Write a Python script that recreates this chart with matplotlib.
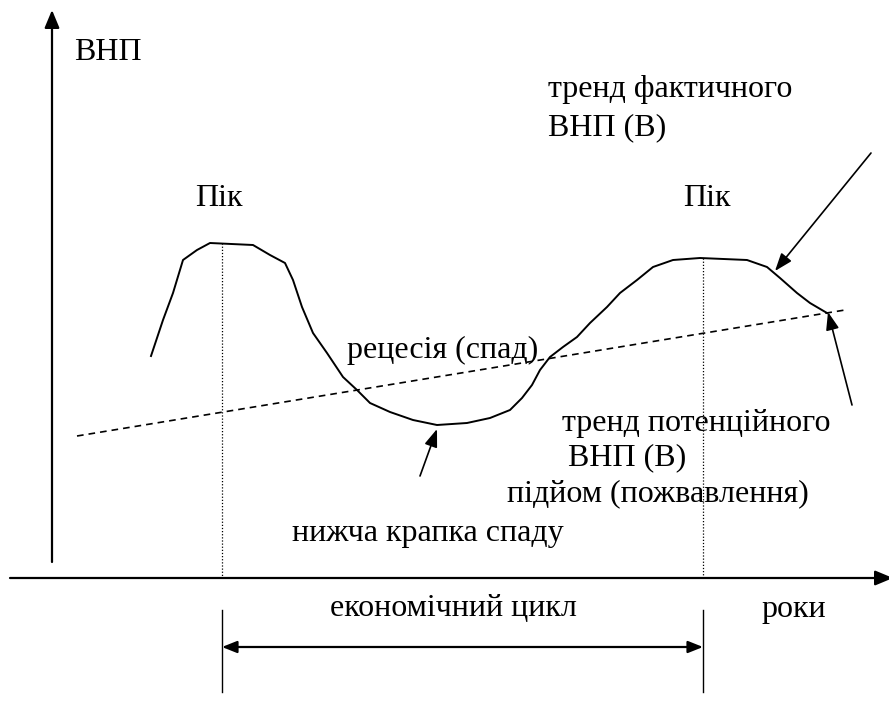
import matplotlib
matplotlib.use("Agg")
import matplotlib.pyplot as plt

plt.rcParams['font.family'] = ['Liberation Serif', 'DejaVu Serif']

# фактичний ВНП (хвиля циклу), у координатах схеми
curve_x = [151, 163, 173, 183, 197, 210, 253, 270, 285, 293, 302, 313, 327, 343,
           357, 370, 390, 413, 437, 467, 490, 510, 522, 532, 540, 550, 563, 577,
           590, 607, 620, 637, 653, 673, 700, 747, 767, 780, 797, 810, 827]
curve_y = [356, 320, 293, 260, 250, 243, 245, 255, 263, 280, 307, 333, 353, 377,
           390, 403, 412, 420, 425, 423, 418, 410, 398, 385, 370, 357, 347, 337,
           323, 307, 293, 280, 267, 260, 258, 260, 267, 278, 293, 303, 313]

# потенційний ВНП (лінійний тренд)
trend_x = [77, 845]
trend_y = [436, 310]

# піки та межі циклу
peak_x = [222, 703]
peak_y = [243, 258]
axis_y0 = 578

labels = [
    ("ВНП", 74, 52),
    ("Пік", 195, 198),
    ("Пік", 683, 199),
    ("тренд фактичного", 548, 90),
    ("ВНП (В)", 548, 128),
    ("рецесія (спад)", 347, 350),
    ("тренд потенційного", 562, 423),
    ("ВНП (В)", 568, 458),
    ("підйом (пожвавлення)", 507, 494),
    ("нижча крапка спаду", 292, 533),
    ("економічний цикл", 330, 609),
    ("роки", 761, 609),
]

# стрілки-вказівники: (хвіст, вістря)
pointers = [
    ((420, 476), (437, 429)),
    ((871, 153), (775, 271)),
    ((852, 405), (828, 312)),
]

fig = plt.figure(figsize=(8.89, 7.08), dpi=100)
ax = fig.add_axes([0, 0, 1, 1])
ax.set_xlim(0, 889)
ax.set_ylim(708, 0)
ax.axis('off')

axis_head = '-|>,head_length=0.6,head_width=0.25'

# осі
ax.annotate('', xy=(52, 10), xytext=(52, 562), annotation_clip=False,
            arrowprops=dict(arrowstyle=axis_head, color='black', lw=1.6,
                            mutation_scale=18, shrinkA=0, shrinkB=0))
ax.annotate('', xy=(893, axis_y0), xytext=(10, axis_y0), annotation_clip=False,
            arrowprops=dict(arrowstyle=axis_head, color='black', lw=1.6,
                            mutation_scale=18, shrinkA=0, shrinkB=0))

# криві
ax.plot(curve_x, curve_y, color='black', lw=1.4, solid_joinstyle='round')
ax.plot(trend_x, trend_y, color='black', lw=1.2, ls=(0, (4, 3)))

# пунктирні вертикалі від піків
for px, py in zip(peak_x, peak_y):
    ax.plot([px, px], [py, axis_y0], color='black', lw=0.9, ls=(0, (1, 1.5)))
    ax.plot([px, px], [610, 692], color='black', lw=1.0)

# тривалість циклу
ax.annotate('', xy=(peak_x[0], 647), xytext=(peak_x[1], 647),
            arrowprops=dict(arrowstyle='<|-|>,head_length=0.5,head_width=0.2',
                            color='black', lw=1.6,
                            mutation_scale=18, shrinkA=0, shrinkB=0))

for tail, tip in pointers:
    ax.annotate('', xy=tip, xytext=tail,
                arrowprops=dict(arrowstyle='-|>,head_length=0.6,head_width=0.22',
                                color='black', lw=1.2,
                                mutation_scale=18, shrinkA=0, shrinkB=0))

for text, x, y in labels:
    ax.text(x, y, text, fontsize=23, ha='left', va='center', color='black')

fig.savefig('out.png', dpi=100, facecolor='white')
